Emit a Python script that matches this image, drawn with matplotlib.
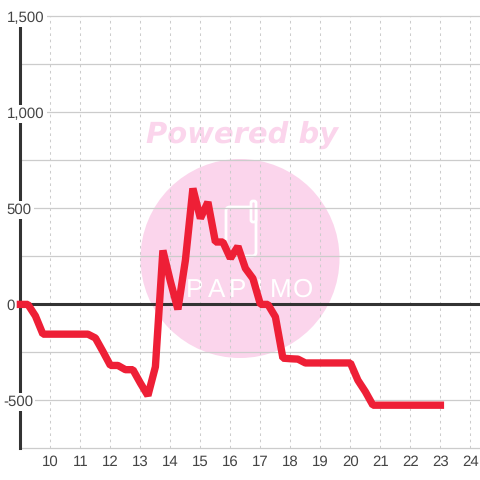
# Cumulative value over the day, with watermark behind the plot
import matplotlib
matplotlib.use('Agg')
import matplotlib.pyplot as plt
from matplotlib import font_manager
from matplotlib.patches import Ellipse, FancyBboxPatch

plt.rcParams['text.hinting'] = 'none'
plt.rcParams['text.hinting_factor'] = 1

hours = [9, 9.25, 9.5, 9.75, 10, 10.25, 10.5, 10.75, 11, 11.25, 11.5, 11.75,
         12, 12.25, 12.5, 12.75, 13, 13.25, 13.5, 13.75, 14, 14.25, 14.5, 14.75,
         15, 15.25, 15.5, 15.75, 16, 16.25, 16.5, 16.75, 17, 17.25, 17.5, 17.75,
         18, 18.25, 18.5, 18.75, 19, 19.25, 19.5, 19.75, 20, 20.25, 20.5, 20.75,
         21, 21.25, 21.5, 21.75, 22, 22.25, 22.5, 22.75, 23]
values = [0, 0, -60, -155, -155, -155, -155, -155, -155, -155, -175, -245,
          -318, -318, -340, -340, -410, -475, -325, 281, 120, -26, 230, 604,
          448, 533, 325, 325, 240, 302, 188, 135, 0, 0, -65, -280,
          -283, -285, -305, -305, -305, -305, -305, -305, -305, -395, -455, -525,
          -525, -525, -525, -525, -525, -525, -525, -525, -525]

y_major = [1500, 1000, 500, 0, -500]
y_labels = ['1,500', '1,000', '500', '0', '-500']
y_minor = [1250, 750, 250, -250, -750]
x_ticks = list(range(10, 25))
logo_letters = ['P', 'A', 'P', 'I', 'M', 'O']

PINK = '#fbd5ec'
TEXT = '#444444'
FONT = 'Liberation Sans'

# narrow cut for the logo if it is there
names = {f.name for f in font_manager.fontManager.ttflist}
LOGO_FONT = 'Liberation Sans Narrow' if 'Liberation Sans Narrow' in names else FONT
LOGO_SIZE = 25 if LOGO_FONT != FONT else 19

fig = plt.figure(figsize=(4.8, 4.8), dpi=100)
fig.patch.set_facecolor('white')
ax = fig.add_axes([20.4 / 480, 1 - 448.4 / 480, 1 - 20.4 / 480, (448.4 - 16.4) / 480])
ax.patch.set_visible(False)
ax.set_xlim(9, 24.32)
ax.set_ylim(-750, 1500)

# watermark sits on the figure so the grid goes over it
fig.add_artist(Ellipse((240 / 480, 1 - 258.5 / 480), 199 / 480, 199 / 480,
                       transform=fig.transFigure, fc=PINK, ec='none', zorder=-5))
fig.text(242 / 480, 1 - 134.5 / 480, 'Powered by', family='DejaVu Sans', weight='bold', style='italic',
         fontsize=20.8, color=PINK, ha='center', va='center', zorder=-5)
fig.add_artist(FancyBboxPatch((226 / 480, 1 - 256 / 480), 30 / 480, 49 / 480,
                              boxstyle='round,pad=0,rounding_size=0.008',
                              transform=fig.transFigure, fc='none', ec='white', lw=2, zorder=-4))
fig.add_artist(FancyBboxPatch((251 / 480, 1 - 222 / 480), 5 / 480, 21 / 480,
                              boxstyle='round,pad=0,rounding_size=0.004',
                              transform=fig.transFigure, fc=PINK, ec='white', lw=2, zorder=-4))
for i, letter in enumerate(logo_letters):
    fig.text((195 + i * 21.5) / 480, 1 - 290 / 480, letter, family=LOGO_FONT, fontsize=LOGO_SIZE,
             color='white', ha='center', va='center', zorder=-4)

for s in ax.spines.values():
    s.set_visible(False)
ax.tick_params(length=0)
ax.set_yticks([])
ax.set_xticks(x_ticks)
ax.set_xticklabels([str(h) for h in x_ticks], family=FONT, fontsize=10.8, color=TEXT)
ax.tick_params(axis='x', pad=5)

ax.grid(axis='x', color='#cccccc', lw=0.75, ls=(0, (2.5, 3.5)), zorder=1)
for v in y_major + y_minor:
    ax.axhline(v, color='#cccccc', lw=0.9, zorder=1, clip_on=False)
ax.axhline(0, color='#333333', lw=2.2, zorder=2)
ax.axvline(9, color='#333333', lw=2.2, zorder=2, clip_on=False)

# labels carry a white box that breaks the axis and grid lines
for v, lab in zip(y_major, y_labels):
    shift = -4 if lab.startswith('-') else 0
    ax.annotate(lab, (9, v), xytext=(-13.5 + shift, -1.5), textcoords='offset pixels',
                family=FONT, fontsize=10.8, color=TEXT, ha='left', va='center',
                annotation_clip=False, zorder=3,
                bbox=dict(fc='white', ec='none', pad=1.5))

ax.plot(hours, values, color='#ee1f36', lw=5.3, solid_joinstyle='bevel',
        solid_capstyle='projecting', clip_on=False, zorder=4)

fig.savefig('out.png', dpi=100)
